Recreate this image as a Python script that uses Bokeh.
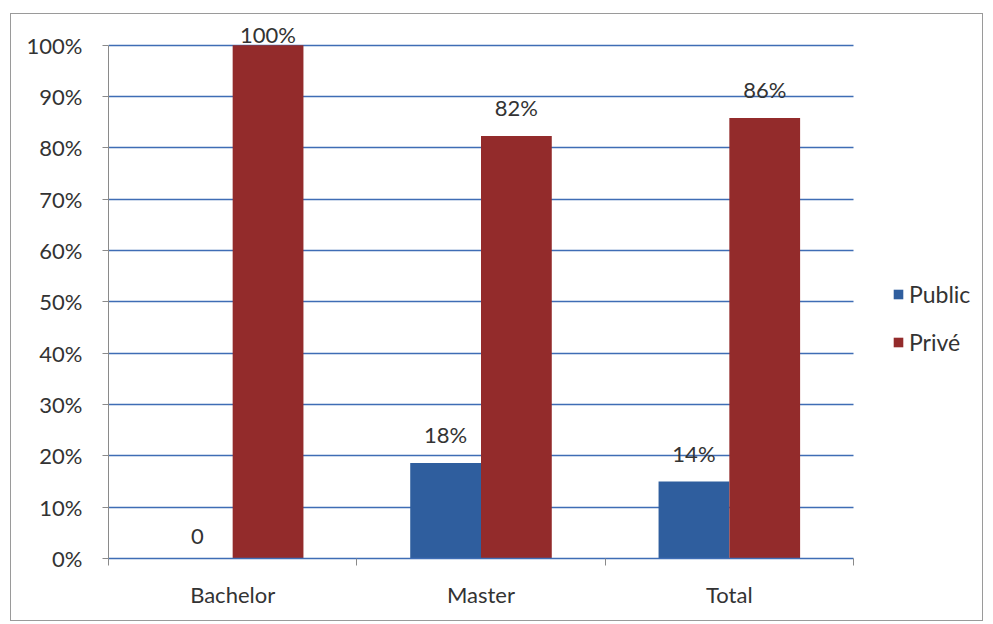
from bokeh.plotting import figure
from bokeh.models import (Range1d, FixedTicker, PrintfTickFormatter, ColumnDataSource,
                          LabelSet, Legend, LegendItem)
from bokeh.core.properties import value
from bokeh.embed import file_html
from bokeh.resources import INLINE

categories = ["Bachelor", "Master", "Total"]
public_values = [0, 18.6, 15.0]
private_values = [100, 82.3, 85.8]
public_labels = ["0", "18%", "14%"]
private_labels = ["100%", "82%", "86%"]
y_ticks = list(range(0, 101, 10))

FONT = "Lato"
FS = "22px"
TXT = "#333333"
BLUE = "#2f5e9e"
RED = "#932b2b"
GRID = "#3f6db5"
AXIS = "#8a8a8a"

PLOT_W = 745      # px for the category area
RIGHT_W = 129     # px for the legend area (inside the frame, right of categories)
n = len(categories)

bar_w = 0.285
idx = list(range(n))
pub_x = [i + 0.5 - bar_w / 2 for i in idx]
pri_x = [i + 0.5 + bar_w / 2 for i in idx]

def offs(vals):
    return [-3 if v >= 97 else 15 for v in vals]

src_pub = ColumnDataSource(dict(x=pub_x, top=public_values, lab=public_labels, off=offs(public_values)))
src_pri = ColumnDataSource(dict(x=pri_x, top=private_values, lab=private_labels, off=offs(private_values)))

p = figure(output_backend="svg", toolbar_location=None,
           x_range=Range1d(0, n * (PLOT_W + RIGHT_W) / PLOT_W), y_range=Range1d(0, 105),
           frame_width=PLOT_W + RIGHT_W, frame_height=539,
           min_border_left=97, min_border_right=0, min_border_top=5, min_border_bottom=62)
p.styles = {"border": "1.5px solid #9a9a9a", "margin-left": "10px", "margin-top": "13px"}
p.outline_line_color = None
p.background_fill_color = "white"

r_pub = p.vbar(x="x", top="top", width=bar_w, source=src_pub, fill_color=BLUE, line_color=None)
r_pri = p.vbar(x="x", top="top", width=bar_w, source=src_pri, fill_color=RED, line_color=None)

for s in (src_pub, src_pri):
    p.add_layout(LabelSet(x="x", y="top", text="lab", source=s, y_offset="off",
                          text_align="center", text_baseline="bottom",
                          text_font=value(FONT), text_font_size=FS, text_color=TXT))

p.xgrid.grid_line_color = None
g = p.ygrid[0]
g.ticker = FixedTicker(ticks=y_ticks)
g.grid_line_color = GRID
g.grid_line_width = 1.5
g.cross_bounds = (0, n)

ya = p.yaxis[0]
ya.ticker = FixedTicker(ticks=y_ticks)
ya.bounds = (0, 100)
ya.formatter = PrintfTickFormatter(format="%d%%")
ya.axis_line_color = AXIS
ya.major_tick_line_color = AXIS
ya.major_tick_out = 6
ya.major_tick_in = 0
ya.minor_tick_line_color = None
ya.major_label_standoff = 20
ya.major_label_text_font = FONT
ya.major_label_text_font_size = FS
ya.major_label_text_color = TXT

xa = p.xaxis[0]
xa.ticker = FixedTicker(ticks=[i + 0.5 for i in idx], minor_ticks=[i for i in range(n + 1)])
xa.major_label_overrides = {i + 0.5: c for i, c in zip(idx, categories)}
xa.bounds = (0, n)
xa.axis_line_color = GRID
xa.axis_line_width = 1.5
xa.major_tick_line_color = None
xa.minor_tick_line_color = AXIS
xa.minor_tick_out = 7
xa.minor_tick_in = 0
xa.major_label_standoff = 15
xa.major_label_text_font = FONT
xa.major_label_text_font_size = FS
xa.major_label_text_color = TXT

legend = Legend(items=[LegendItem(label="Public", renderers=[r_pub]),
                       LegendItem(label="Privé", renderers=[r_pri])],
                orientation="vertical")
legend.label_text_font = FONT
legend.label_text_font_size = "23px"
legend.label_text_color = TXT
legend.glyph_width = 12
legend.glyph_height = 12
legend.label_standoff = 5
legend.spacing = 20
legend.border_line_color = None
legend.background_fill_alpha = 0
legend.margin = 0
legend.padding = 0
legend.location = (PLOT_W + 39, 202)
p.add_layout(legend)

open("out.html", "w").write(file_html(p, INLINE))
